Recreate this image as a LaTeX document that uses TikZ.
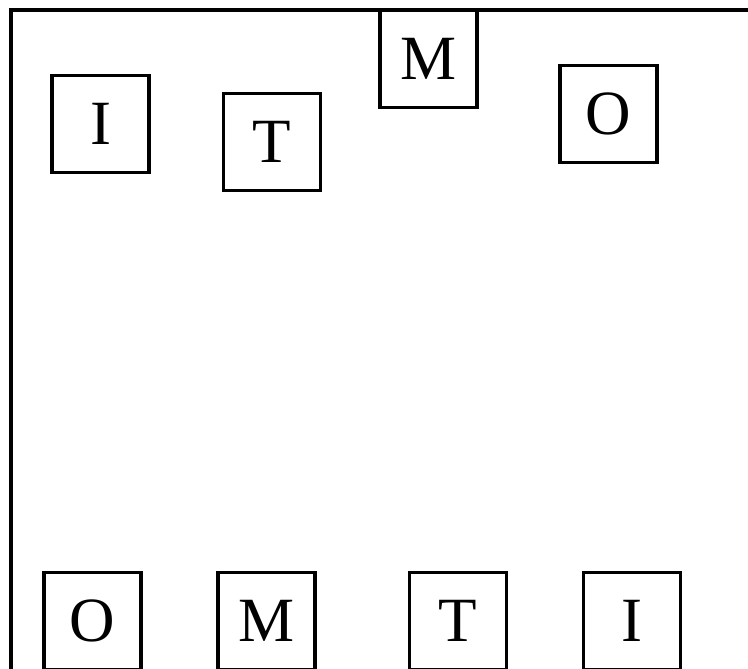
\documentclass[tikz,border=0pt]{standalone}
\usepackage{fontspec}
\setmainfont{Liberation Serif}
\usetikzlibrary{positioning}

\begin{document}
\begin{tikzpicture}[x=1pt, y=-1pt,
    cell/.style={draw, line width=3.3pt, minimum size=97pt, inner sep=0pt,
      font=\fontsize{63}{63}\selectfont, text depth=-1.5pt},
    frame/.style={draw, line width=4pt}]

  \useasboundingbox (0,0) rectangle (748,669);

  % outer frame (runs off the right and bottom edges)
  \coordinate (fnw) at (10.5,10.5);
  \coordinate (fse) at (820,760);
  \draw[frame] (fnw) rectangle (fse);

  % top row
  \node[cell] (i1) at (100.5,124) {I};
  \node[cell] (t1) at (272,142) {T};
  \node[cell] (m1) at (428.5,59) {M};
  \node[cell] (o1) at (608.5,114) {O};

  % bottom row
  \node[cell] (o2) at (92.5,621) {O};
  \node[cell] (m2) at (266.5,621) {M};
  \node[cell] (t2) at (458,621) {T};
  \node[cell] (i2) at (632,621) {I};

\end{tikzpicture}
\end{document}
